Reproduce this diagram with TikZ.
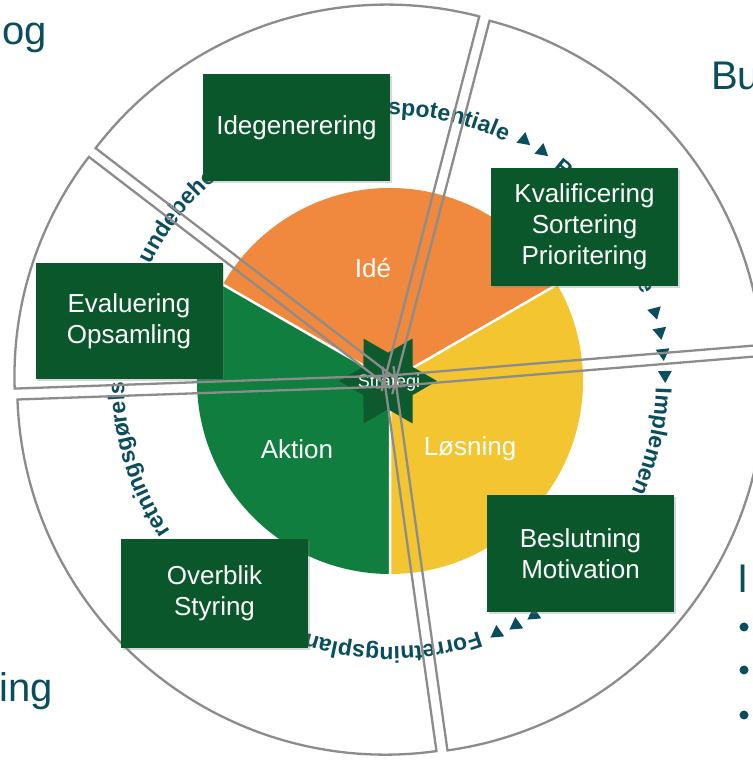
\documentclass[tikz,border=0pt]{standalone}
\usepackage{fontspec}
\setmainfont{Liberation Sans}
\setsansfont{Liberation Sans}
\usetikzlibrary{calc,decorations.text,shadows}
\definecolor{boxgreen}{HTML}{0B572C}
\definecolor{piegreen}{HTML}{107E3E}
\definecolor{pieorange}{HTML}{F0893E}
\definecolor{pieyellow}{HTML}{F3C530}
\definecolor{stargreen}{HTML}{0C5A2D}
\definecolor{ringteal}{HTML}{0A4D5C}
\definecolor{rimgray}{HTML}{8C8C8C}
\newcommand\ringfont{\fontsize{23}{23}\selectfont\bfseries}
\begin{document}
\begin{tikzpicture}[x=1pt,y=1pt,
  greenbox/.style={fill=boxgreen, text=white, minimum width=187pt, minimum height=#1, inner sep=0pt, align=center, font=\fontsize{26}{31}\selectfont, drop shadow={shadow xshift=1.5pt,shadow yshift=-2pt,opacity=0.3}},
  pielabel/.style={text=white, inner sep=0pt, font=\fontsize{26}{31}\selectfont},
  cornertext/.style={text=ringteal, inner sep=0pt, font=\fontsize{40}{48}\selectfont},
  rim/.style={draw=rimgray, line width=2.3pt, line join=miter},
  arrowtri/.style={fill=ringteal},
  ringpath/.style={decorate, decoration={text along path, text color=ringteal, text={|\ringfont|#1}}}
]
\useasboundingbox (0,0) rectangle (752,760);
\fill[white] (0,0) rectangle (752,760);
\coordinate (C) at (390,379);

% corner texts
\node[cornertext, anchor=base east] (og) at (47,715) {og};
\node[cornertext, anchor=base west] (bu) at (711,670) {Bu};
\node[cornertext, anchor=base west] (ing) at (-1,58) {ing};
\node[cornertext, anchor=base west] (inr) at (737,167) {I};
\fill[ringteal] (744,133) circle (4.5);
\fill[ringteal] (744,90) circle (4.5);
\fill[ringteal] (744,45) circle (4.5);

% ring text (visible parts)
\path[ringpath={undebeho}] ($(C)+(154:266)$) arc[start angle=154, delta angle=-60, radius=266];
\path[ringpath={spotentiale}] ($(C)+(90.4:266)$) arc[start angle=90.4, delta angle=-60, radius=266];
\path[ringpath={B}] ($(C)+(52.5:266)$) arc[start angle=52.5, delta angle=-20, radius=266];
\path[ringpath={e}] ($(C)+(21.8:266)$) arc[start angle=21.8, delta angle=-20, radius=266];
\path[ringpath={Implemen}] ($(C)+(-1.5:266)$) arc[start angle=-1.5, delta angle=-60, radius=266];
\path[ringpath={Forretningsplan}] ($(C)+(-70.5:266)$) arc[start angle=-70.5, delta angle=-60, radius=266];
\path[ringpath={retningsgørels}] ($(C)+(-145.5:266)$) arc[start angle=-145.5, delta angle=-60, radius=266];

% triangles
\foreach \x/\y/\r in {524/620/80, 542/609/80, 655/448/-75.4, 660/428/-79.7, 663/407/-84.1, 665/385/-88.7, 534/145/95, 516/135/95, 497/127/95}{
  \fill[arrowtri, shift={(\x,\y)}, rotate=\r] (8,0) -- (-4,6.93) -- (-4,-6.93) -- cycle;
}

% inner pie
\fill[pieorange] (C) -- ++(30:193) arc[start angle=30, end angle=150, radius=193] -- cycle;
\fill[piegreen] (C) -- ++(150:193) arc[start angle=150, end angle=270, radius=193] -- cycle;
\fill[pieyellow] (C) -- ++(270:193) arc[start angle=270, end angle=390, radius=193] -- cycle;
\draw[white, line width=2.5pt] (C) -- ++(30:193) (C) -- ++(150:193) (C) -- ++(270:193);
\node[pielabel] (ide) at (373,492) {Idé};
\node[pielabel] (losning) at (470,311) {Løsning};
\node[pielabel] (aktion) at (297,311) {Aktion};

% star
\fill[stargreen, shift={(388,379)}] (0:49) -- (30:28.3) -- (60:49) -- (90:28.3) -- (120:49) -- (150:28.3) -- (180:49) -- (210:28.3) -- (240:49) -- (270:28.3) -- (300:49) -- (330:28.3) -- cycle;
\node[text=white, inner sep=0pt, font=\fontsize{18}{20}\selectfont] (strategi) at (389,377) {Strategi};

% outer sectors (edges run on a little past the centre)
\foreach \a/\b/\d/\r in {75.4/142.5/9.95/367, 142.5/182/16.3/360, 182/278/7.4/368, 278/364.7/8.0/368, 4.7/75.4/9.5/366}{
  \pgfmathsetmacro\m{(\a+\b)/2}
  \coordinate (A) at ($(C)+(\m:\d)$);
  \coordinate (P) at ($(A)+(\a:\r)$);
  \coordinate (Q) at ($(A)+(\b:\r)$);
  \draw[rim] ($(A)!-20pt!(P)$) -- (P) arc[start angle=\a, end angle=\b, radius=\r] -- ($(A)!-20pt!(Q)$);
}

% boxes
\node[greenbox=107pt] (idegen) at (296.5,632) {Idegenerering};
\node[greenbox=118pt] (kval) at (584.5,533) {Kvalificering\\Sortering\\Prioritering};
\node[greenbox=116pt] (eval) at (129,439) {Evaluering\\Opsamling};
\node[greenbox=109pt] (overblik) at (214.5,166.5) {Overblik\\Styring};
\node[greenbox=117pt] (beslut) at (580.5,206.5) {Beslutning\\Motivation};
\end{tikzpicture}
\end{document}
